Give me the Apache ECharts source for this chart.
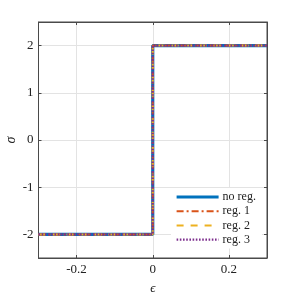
<!DOCTYPE html>
<html><head><meta charset="utf-8">
<script src="https://cdn.jsdelivr.net/npm/echarts@6/dist/echarts.min.js"></script>
<style>html,body{margin:0;padding:0;background:#fff}#c{width:296px;height:296px}</style>
</head><body><div id="c"></div>
<script>
var seriesNames = ['no reg.', 'reg. 1', 'reg. 2', 'reg. 3'];
var strainX = [-0.3, 0, 0, 0.3];
var stressNoReg = [-2, -2, 2, 2];
var stressReg1 = [-2, -2, 2, 2];
var stressReg2 = [-2, -2, 2, 2];
var stressReg3 = [-2, -2, 2, 2];
var xTicks = [-0.2, 0, 0.2];
var yTicks = [-2, -1, 0, 1, 2];

var allY = [stressNoReg, stressReg1, stressReg2, stressReg3];
var colors = ['#0072BD', '#D95319', '#EDB120', '#7E2F8E'];
var widths = [3.2, 2, 2, 2.2];
var types = ['solid', [7, 3, 2, 3], [7, 7], [1.6, 1.6]];
var font = 'Liberation Serif';
var axisCol = '#4a4a4a';
var gridCol = '#e3e3e3';

var series = seriesNames.map(function (n, i) {
  return {
    name: n, type: 'line', xAxisIndex: 0, yAxisIndex: 0,
    data: strainX.map(function (x, k) { return [x, allY[i][k]]; }),
    symbol: 'none', animation: false,
    lineStyle: { color: colors[i], width: widths[i], type: types[i], cap: 'butt' },
    itemStyle: { color: colors[i] }
  };
});

var legendData = seriesNames.map(function (n, i) {
  return { name: n, lineStyle: { color: colors[i], width: widths[i], type: types[i] } };
});

var chart = echarts.init(document.getElementById('c'), null, { renderer: 'canvas' });
chart.setOption({
  animation: false,
  grid: { left: 38.5, right: 29, top: 22, bottom: 38, show: true, borderColor: axisCol, borderWidth: 1,
    backgroundColor: '#fff', containLabel: false, outerBoundsMode: 'none' },
  xAxis: [{
    type: 'value', min: -0.3, max: 0.3, interval: 0.1, position: 'bottom',
    axisLine: { show: true, onZero: false, lineStyle: { color: axisCol } },
    axisTick: { show: true, inside: true, length: 3, lineStyle: { color: axisCol },
      customValues: xTicks },
    axisLabel: { customValues: xTicks, color: '#222', fontFamily: font, fontSize: 13, margin: 5,
      formatter: function (v) { return v === 0 ? '0' : String(v); } },
    splitLine: { show: true, lineStyle: { color: gridCol, width: 1 } },
    name: 'ϵ', nameLocation: 'middle', nameGap: 24, nameMoveOverlap: false,
    nameTextStyle: { fontFamily: font, fontSize: 13, color: '#222', fontStyle: 'italic' }
  }, {
    type: 'value', min: -0.3, max: 0.3, position: 'top',
    axisLine: { show: true, onZero: false, lineStyle: { color: axisCol } },
    axisTick: { show: true, inside: true, length: 3, lineStyle: { color: axisCol }, customValues: xTicks },
    axisLabel: { show: false }, splitLine: { show: false }
  }],
  yAxis: [{
    type: 'value', min: -2.5, max: 2.5, position: 'left',
    axisLine: { show: true, onZero: false, lineStyle: { color: axisCol } },
    axisTick: { show: true, inside: true, length: 3, lineStyle: { color: axisCol }, customValues: yTicks },
    axisLabel: { customValues: yTicks, color: '#222', fontFamily: font, fontSize: 13, margin: 5 },
    splitLine: { show: true, lineStyle: { color: gridCol, width: 1 } },
    name: 'σ', nameLocation: 'middle', nameGap: 20, nameRotate: 90, nameMoveOverlap: false,
    nameTextStyle: { fontFamily: font, fontSize: 14, color: '#222', fontStyle: 'italic' }
  }, {
    type: 'value', min: -2.5, max: 2.5, position: 'right',
    axisLine: { show: true, onZero: false, lineStyle: { color: axisCol } },
    axisTick: { show: true, inside: true, length: 3, lineStyle: { color: axisCol }, customValues: yTicks },
    axisLabel: { show: false }, splitLine: { show: false }
  }],
  legend: {
    orient: 'vertical', left: 171, top: 188, padding: [3, 6, 3, 4],
    backgroundColor: '#fff', itemWidth: 42, itemHeight: 12, itemGap: 2.2,
    data: legendData, selectedMode: false,
    itemStyle: { opacity: 0 },
    textStyle: { fontFamily: font, fontSize: 12, color: '#222', padding: [0, 0, 0, -1] }
  },
  series: series
});
</script></body></html>
